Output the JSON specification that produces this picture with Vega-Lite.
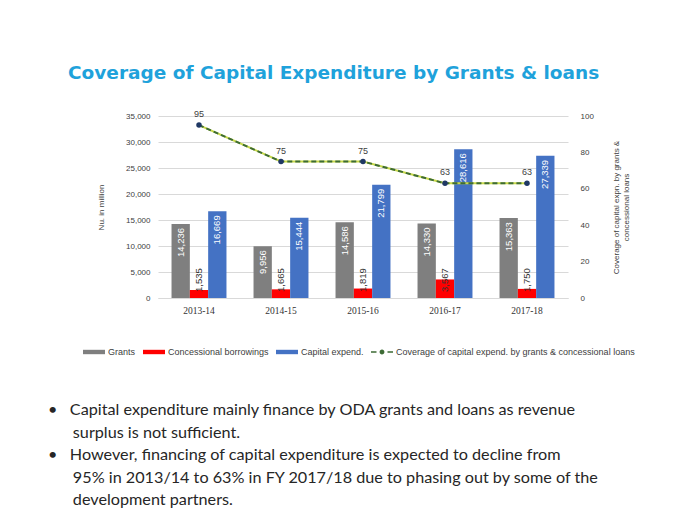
{
  "$schema": "https://vega.github.io/schema/vega-lite/v6.json",
  "background": "white",
  "padding": {"left": 48, "top": 63, "right": 5, "bottom": 5},
  "config": {
    "view": {"stroke": null},
    "font": "Liberation Sans",
    "axis": {"labelFont": "Liberation Sans", "titleFont": "Liberation Sans"},
    "concat": {"spacing": 0}
  },
  "datasets": {
    "bars": [
      {"year": "2013-14", "series": "Grants", "value": 14236},
      {"year": "2013-14", "series": "Concessional borrowings", "value": 1535},
      {"year": "2013-14", "series": "Capital expend.", "value": 16669},
      {"year": "2014-15", "series": "Grants", "value": 9956},
      {"year": "2014-15", "series": "Concessional borrowings", "value": 1665},
      {"year": "2014-15", "series": "Capital expend.", "value": 15444},
      {"year": "2015-16", "series": "Grants", "value": 14586},
      {"year": "2015-16", "series": "Concessional borrowings", "value": 1819},
      {"year": "2015-16", "series": "Capital expend.", "value": 21799},
      {"year": "2016-17", "series": "Grants", "value": 14330},
      {"year": "2016-17", "series": "Concessional borrowings", "value": 3567},
      {"year": "2016-17", "series": "Capital expend.", "value": 28616},
      {"year": "2017-18", "series": "Grants", "value": 15363},
      {"year": "2017-18", "series": "Concessional borrowings", "value": 1750},
      {"year": "2017-18", "series": "Capital expend.", "value": 27339}
    ],
    "cov": [
      {"year": "2013-14", "coverage": 95},
      {"year": "2014-15", "coverage": 75},
      {"year": "2015-16", "coverage": 75},
      {"year": "2016-17", "coverage": 63},
      {"year": "2017-18", "coverage": 63}
    ]
  },
  "title": {
    "text": [
      "•\u00a0\u00a0\u00a0Capital expenditure mainly finance by ODA grants and loans as revenue",
      "\u200b\u00a0\u00a0\u00a0\u00a0\u00a0\u00a0surplus is not sufficient.",
      "•\u00a0\u00a0\u00a0However, financing of capital expenditure is expected to decline from",
      "\u200b\u00a0\u00a0\u00a0\u00a0\u00a0\u00a095% in 2013/14 to 63% in FY 2017/18 due to phasing out by some of the",
      "\u200b\u00a0\u00a0\u00a0\u00a0\u00a0\u00a0development partners."
    ],
    "orient": "bottom",
    "anchor": "start",
    "font": "Lato",
    "fontSize": 16.2,
    "fontWeight": "normal",
    "color": "#262626",
    "lineHeight": 22.5,
    "offset": 45,
    "dx": -20
  },
  "vconcat": [
    {
      "width": 410,
      "height": 182,
      "title": {
        "text": "Coverage of Capital Expenditure by Grants & loans",
        "anchor": "start",
        "frame": "group",
        "font": "DejaVu Sans",
        "fontSize": 18.5,
        "fontWeight": "bold",
        "color": "#1fa2db",
        "dx": -90,
        "offset": 28
      },
      "encoding": {
        "x": {
          "field": "year",
          "type": "nominal",
          "sort": null,
          "scale": {"paddingInner": 0.33, "paddingOuter": 0.165},
          "axis": {
            "title": null,
            "labelAngle": 0,
            "labelFont": "Liberation Serif",
            "labelFontSize": 9.5,
            "labelColor": "#333333",
            "ticks": false,
            "domain": true,
            "domainColor": "#d9d9d9",
            "labelPadding": 7
          }
        }
      },
      "layer": [
        {
          "data": {"name": "bars"},
          "encoding": {
            "y": {
              "field": "value",
              "type": "quantitative",
              "scale": {"domain": [0, 35000]},
              "axis": {
                "title": "Nu. in million",
                "titleFontSize": 8,
                "titleFontWeight": "normal",
                "titleColor": "#404040",
                "titlePadding": 20,
                "values": [0, 5000, 10000, 15000, 20000, 25000, 30000, 35000],
                "format": ",.0f",
                "labelFontSize": 8,
                "labelColor": "#404040",
                "labelPadding": 8,
                "ticks": false,
                "domain": false,
                "grid": true,
                "gridColor": "#d9d9d9"
              }
            },
            "xOffset": {"field": "series", "type": "nominal", "sort": ["Grants", "Concessional borrowings", "Capital expend."]}
          },
          "layer": [
            {
              "mark": {"type": "bar"},
              "encoding": {
                "color": {
                  "field": "series",
                  "type": "nominal",
                  "scale": {
                    "domain": ["Grants", "Concessional borrowings", "Capital expend.", "Coverage of capital expend. by grants & concessional loans"],
                    "range": ["#7f7f7f", "#ff0000", "#4472c4", "#3d6b35"]
                  },
                  "legend": {
                    "orient": "none",
                    "legendX": -75,
                    "legendY": 225,
                    "direction": "horizontal",
                    "title": null,
                    "labelFontSize": 9,
                    "labelColor": "#404040",
                    "labelLimit": 400,
                    "labelOffset": 3,
                    "columnPadding": 7,
                    "symbolType": "M-1,-0.2H1V0.2H-1Z",
                    "symbolSize": 484,
                    "symbolStrokeWidth": 0,
                    "encode": {
                      "symbols": {
                        "update": {
                          "shape": {"signal": "datum.value === 'Coverage of capital expend. by grants & concessional loans' ? 'M-1,-0.07H-0.5V0.07H-1Z M0.5,-0.07H1V0.07H0.5Z M-0.22,0A0.22,0.22 0 1 1 0.22,0A0.22,0.22 0 1 1 -0.22,0Z' : 'M-1,-0.2H1V0.2H-1Z'"},
                          "fill": {"signal": "datum.value === 'Grants' ? '#7f7f7f' : datum.value === 'Concessional borrowings' ? '#ff0000' : datum.value === 'Capital expend.' ? '#4472c4' : '#2f5a3a'"},
                          "strokeWidth": {"value": 0}
                        }
                      }
                    }
                  }
                }
              }
            },
            {
              "transform": [{"filter": "datum.series !== 'Concessional borrowings'"}],
              "mark": {"type": "text", "angle": 270, "align": "right", "baseline": "middle", "dx": -4, "fontSize": 9.5, "color": "#ffffff"},
              "encoding": {"text": {"field": "value", "type": "quantitative", "format": ","}}
            },
            {
              "transform": [{"filter": "datum.series === 'Concessional borrowings'"}],
              "mark": {"type": "text", "angle": 270, "align": "left", "baseline": "middle", "dx": 6, "fontSize": 9.5, "color": "#333333"},
              "encoding": {
                "y": {"datum": 0},
                "text": {"field": "value", "type": "quantitative", "format": ","}
              }
            }
          ]
        },
        {
          "data": {"name": "cov"},
          "encoding": {
            "y": {
              "field": "coverage",
              "type": "quantitative",
              "scale": {"domain": [0, 100]},
              "axis": {
                "orient": "right",
                "title": ["Coverage of capital expn. by grants &", "concessional loans"],
                "titleFontSize": 8,
                "titleFontWeight": "normal",
                "titleColor": "#404040",
                "titleAngle": 270,
                "titlePadding": 17,
                "values": [0, 20, 40, 60, 80, 100],
                "labelFontSize": 8,
                "labelColor": "#404040",
                "labelPadding": 12,
                "ticks": false,
                "domain": false,
                "grid": false
              }
            }
          },
          "layer": [
            {
              "mark": {"type": "line", "color": "#c8d94a", "strokeWidth": 2}
            },
            {
              "mark": {"type": "line", "strokeWidth": 2, "strokeDash": [5, 3]},
              "encoding": {"color": {"datum": "Coverage of capital expend. by grants & concessional loans"}}
            },
            {
              "mark": {"type": "point", "filled": true, "size": 30, "color": "#1f3864", "opacity": 1}
            },
            {
              "mark": {"type": "text", "dy": -11, "fontSize": 9, "color": "#404040"},
              "encoding": {"text": {"field": "coverage", "type": "quantitative"}}
            }
          ]
        }
      ],
      "resolve": {"scale": {"y": "independent"}}
    }
  ]
}
